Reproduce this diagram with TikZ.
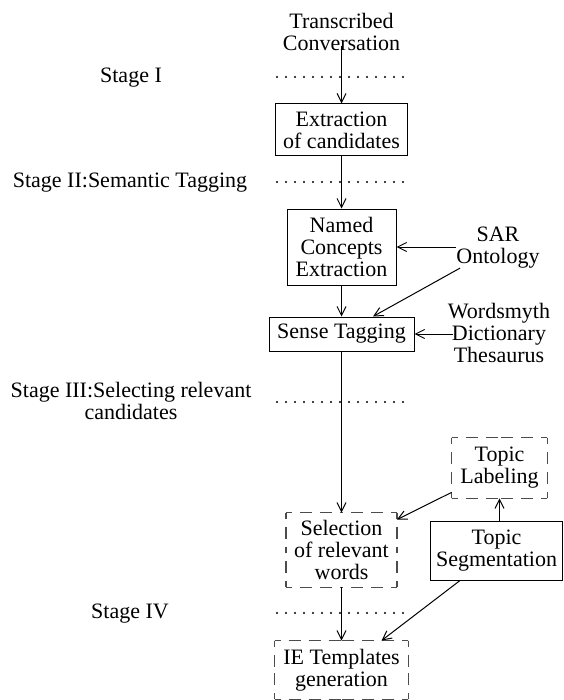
\documentclass[tikz,border=0pt]{standalone}
\usepackage{fontspec}
\setmainfont{Liberation Serif}
\usetikzlibrary{arrows.meta}
\newcommand\cornerdashbox[1]{%
  \draw[dside] (#1.north west) -- (#1.north) (#1.north east) -- (#1.north)
    (#1.south west) -- (#1.south) (#1.south east) -- (#1.south)
    (#1.north west) -- (#1.west) (#1.south west) -- (#1.west)
    (#1.north east) -- (#1.east) (#1.south east) -- (#1.east);}
\begin{document}
\begin{tikzpicture}[x=0.5pt,y=-0.5pt,
  every node/.style={font=\fontsize{11}{11}\selectfont, inner sep=0pt, align=center},
  box/.style={draw, line width=0.5pt},
  dbox/.style={},
  dside/.style={draw=black!70, line width=0.75pt, dash pattern=on 6pt off 4pt, dash phase=3pt},
  lbl/.style={},
  arr/.style={line width=0.5pt, -{Straight Barb[length=4.5pt,width=4.5pt,line width=0.5pt]}},
  dotline/.style={line width=1.1pt, line cap=round, dash pattern=on 0pt off 4.5pt}]
\useasboundingbox (0,0) rectangle (563,700);

% stage labels
\node[lbl, anchor=base] (s1) at (131,83) {Stage I};
\node[lbl, anchor=base] (s2) at (130,188) {Stage II:Semantic Tagging};
\node[lbl, anchor=north] (s3) at (131,382) {Stage III:Selecting relevant\\candidates};
\node[lbl, anchor=base] (s4) at (130,618) {Stage IV};

% dotted separators
\coordinate (d1a) at (277,77);  \coordinate (d1b) at (404,77);
\coordinate (d2a) at (277,182); \coordinate (d2b) at (404,182);
\coordinate (d3a) at (277,402); \coordinate (d3b) at (404,402);
\coordinate (d4a) at (277,613); \coordinate (d4b) at (404,613);
\draw[dotline] (d1a) -- (d1b);
\draw[dotline] (d2a) -- (d2b);
\draw[dotline] (d3a) -- (d3b);
\draw[dotline] (d4a) -- (d4b);

% main chain
\node[lbl, anchor=north] (trans) at (341.5,13) {Transcribed\\Conversation};
\node[box, minimum width=66pt, minimum height=26pt] (extr) at (341.5,130) {Extraction\\of candidates};
\node[box, minimum width=54.5pt, minimum height=38pt] (named) at (341.5,247) {Named\\Concepts\\Extraction};
\node[box, minimum width=72.5pt, minimum height=17pt] (sense) at (341.5,334) {Sense Tagging};
\node[dbox, minimum width=55pt, minimum height=37pt] (sel) at (341.5,550) {Selection\\of relevant\\words};
\node[dbox, minimum width=66.5pt, minimum height=29pt] (ie) at (341.5,670) {IE Templates\\generation};

% resources
\node[lbl, anchor=north] (sar) at (498,227) {SAR\\Ontology};
\node[lbl, anchor=north] (wd) at (499,303) {Wordsmyth\\Dictionary\\Thesaurus};
\node[dbox, minimum width=47.5pt, minimum height=30pt] (lab) at (499.5,468) {Topic\\Labeling};
\node[box, minimum width=66pt, minimum height=29.5pt] (seg) at (496.5,550.5) {Topic\\Segmentation};

% dashed outlines with corner pieces
\cornerdashbox{sel}
\cornerdashbox{ie}
\cornerdashbox{lab}

% connectors
\draw[arr] ([yshift=2.5pt]trans.south) -- (extr.north);
\draw[arr] (extr.south) -- (named.north);
\draw[arr] (named.south) -- (sense.north);
\draw[arr] (sense.south) -- (sel.north);
\draw[arr] (sel.south) -- (ie.north);
\draw[arr] (sar.west |- named.east) -- (named.east);
\draw[arr] ([xshift=2pt,yshift=0.5pt]sar.south west) -- ([xshift=15.75pt]sense.north);
\draw[arr] ([xshift=2.5pt]wd.west |- sense.east) -- (sense.east);
\draw[arr] (seg.north -| lab.south) -- (lab.south);
\draw[arr] ([yshift=3pt]lab.south west) -- ([yshift=-3.5pt]sel.north east);
\draw[arr] ([xshift=15pt]seg.south west) -- ([xshift=20pt]ie.north);
\end{tikzpicture}
\end{document}
